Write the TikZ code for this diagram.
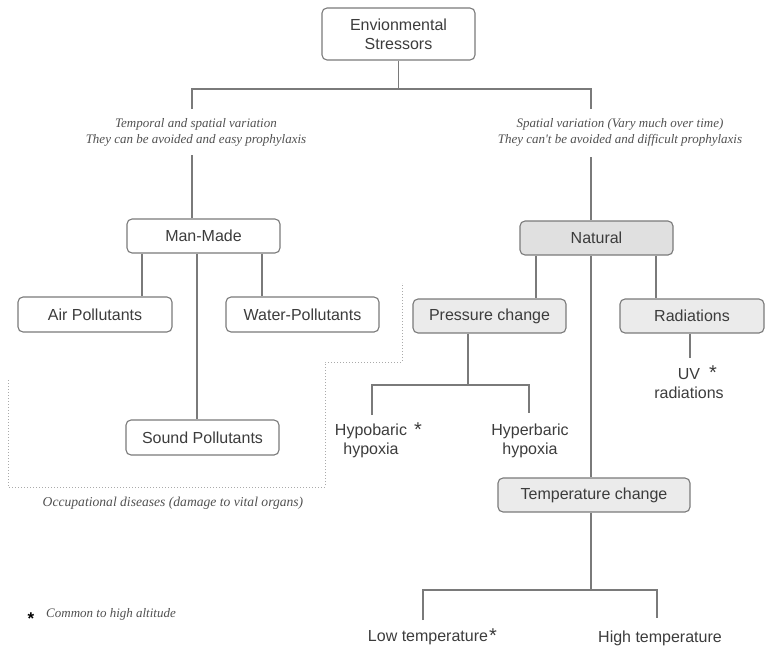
\documentclass[tikz,border=0pt]{standalone}
\usepackage{fontspec}
\newfontfamily\boxfont{Liberation Sans}
\newfontfamily\notefont{Liberation Serif}
\definecolor{linegray}{HTML}{7A7A7A}
\definecolor{txtgray}{HTML}{3C3C3C}
\definecolor{itgray}{HTML}{505050}
\definecolor{fillA}{HTML}{E0E0E0}
\definecolor{fillB}{HTML}{EBEBEB}
\definecolor{dotgray}{HTML}{AAAAAA}
\tikzset{
  boxnode/.style={draw=linegray, line width=1.1pt, rounded corners=5pt, text=txtgray,
    font=\boxfont\fontsize{16}{19}\selectfont, align=center, inner sep=0pt},
  plain/.style={text=txtgray, font=\boxfont\fontsize{16}{19}\selectfont, align=center, inner sep=0pt},
  annot/.style={text=itgray, font=\notefont\itshape\fontsize{13}{16}\selectfont, align=center, inner sep=0pt},
  conn/.style={draw=linegray, line width=1.1pt},
  starmark/.style={text=txtgray, font=\boxfont\fontsize{20}{20}\selectfont, inner sep=0pt}
}
\begin{document}
\begin{tikzpicture}[x=1pt,y=-1pt]
\useasboundingbox (0,0) rectangle (765,648);
% boxes
\node[boxnode, minimum width=153pt, minimum height=52pt] (env) at (398.5,34) {Envionmental\\Stressors};
\node[boxnode, minimum width=153pt, minimum height=34pt] (mm) at (203.5,236) {Man-Made};
\node[boxnode, minimum width=154pt, minimum height=35pt] (air) at (95,314.5) {Air Pollutants};
\node[boxnode, minimum width=153pt, minimum height=35pt] (water) at (302.5,314.5) {Water-Pollutants};
\node[boxnode, minimum width=153pt, minimum height=35pt] (sound) at (202.5,437.5) {Sound Pollutants};
\node[boxnode, fill=fillA, minimum width=153pt, minimum height=34pt] (nat) at (596.5,238) {Natural};
\node[boxnode, fill=fillB, minimum width=153pt, minimum height=34pt] (press) at (489.5,316) {Pressure change};
\node[boxnode, fill=fillB, minimum width=144pt, minimum height=34pt] (rad) at (692,316) {Radiations};
\node[boxnode, fill=fillB, minimum width=192pt, minimum height=34pt] (temp) at (594,495) {Temperature change};
% annotations
\node[annot] (tl) at (196,132) {Temporal and spatial variation\\They can be avoided and easy prophylaxis};
\node[annot] (tr) at (620,132) {Spatial variation (Vary much over time)\\They can't be avoided and difficult prophylaxis};
\node[annot, font=\notefont\itshape\fontsize{13.6}{16}\selectfont] (occ) at (173,503) {Occupational diseases (damage to vital organs)};
\node[annot, anchor=west] (common) at (46,614) {Common to high altitude};
\node[text=black, font=\boxfont\bfseries\fontsize{17}{17}\selectfont, inner sep=0pt] (cstar) at (31,619) {*};
% leaves
\node[plain] (hypo) at (371,441) {Hypobaric\\hypoxia};
\node[starmark] (hypostar) at (418,430) {*};
\node[plain] (hyper) at (530,441) {Hyperbaric\\hypoxia};
\node[plain] (uv) at (689,384) {UV\\radiations};
\node[starmark] (uvstar) at (713,373) {*};
\node[plain] (low) at (428,638) {Low temperature};
\node[starmark] (lowstar) at (493,636) {*};
\node[plain] (high) at (660,638) {High temperature};
% junction coordinates
\coordinate (j0) at (398.5,89);
\coordinate (jl) at (192,89);
\coordinate (jr) at (591,89);
\coordinate (jlt) at (192,109);
\coordinate (jlb) at (192,155);
\coordinate (jrt) at (591,109);
\coordinate (jrb) at (591,157);
\coordinate (jp) at (468,385);
\coordinate (jpl) at (372,385);
\coordinate (jpr) at (529,385);
\coordinate (jplb) at (372,415);
\coordinate (jprb) at (529,413);
\coordinate (jrad) at (690,358);
\coordinate (jt) at (591,590);
\coordinate (jtl) at (423,590);
\coordinate (jtr) at (657,590);
\coordinate (jtlb) at (423,620);
\coordinate (jtrb) at (657,618);
% connectors
\draw[conn] (env.south) -- (j0);
\draw[conn] (jlt) -- (jl) -- (jr) -- (jrt);
\draw[conn] (jlb) -- (jlb |- mm.north);
\draw[conn] (jrb) -- (jrb |- nat.north);
\draw[conn] (mm.south -| 142,0) -- (air.north -| 142,0);
\draw[conn] (mm.south -| 197,0) -- (sound.north -| 197,0);
\draw[conn] (mm.south -| 262,0) -- (water.north -| 262,0);
\draw[conn] (nat.south -| 536,0) -- (press.north -| 536,0);
\draw[conn] (nat.south -| 591,0) -- (temp.north -| 591,0);
\draw[conn] (nat.south -| 656,0) -- (rad.north -| 656,0);
\draw[conn] (press.south -| jp) -- (jp);
\draw[conn] (jplb) -- (jpl) -- (jpr) -- (jprb);
\draw[conn] (rad.south -| jrad) -- (jrad);
\draw[conn] (temp.south -| jt) -- (jt);
\draw[conn] (jtlb) -- (jtl) -- (jtr) -- (jtrb);
% dotted region
\draw[dotgray, line width=1pt, dotted] (8,380) -- (8,487) -- (325,487) -- (325,362) -- (402,362) -- (402,283);
\end{tikzpicture}
\end{document}
